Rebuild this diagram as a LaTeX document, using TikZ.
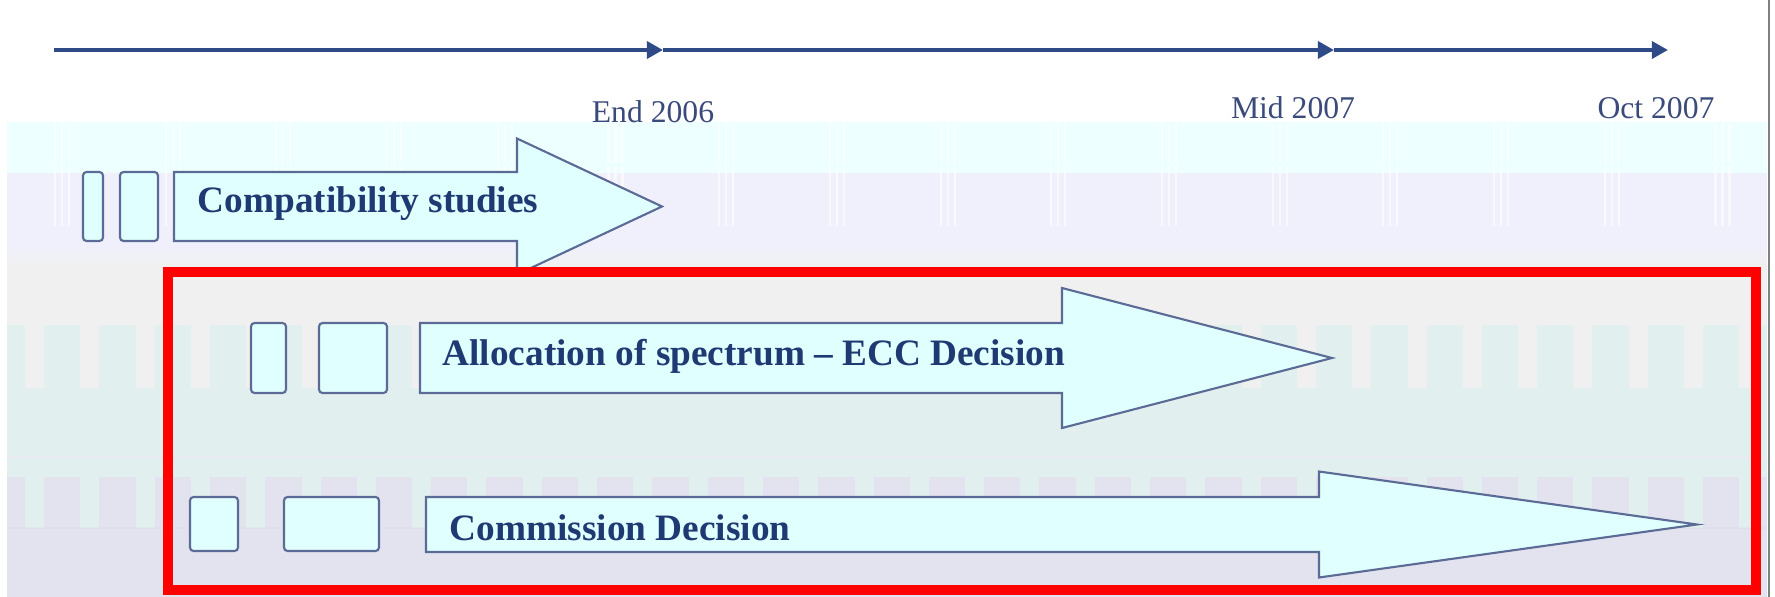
\documentclass[tikz,border=0pt]{standalone}
\usepackage{fontspec}
\setmainfont{Liberation Serif}
\usepackage{tikz}
\usetikzlibrary{arrows.meta,calc,positioning}
\definecolor{Navy}{HTML}{1F3A73}
\definecolor{LabelInk}{HTML}{3A4A7A}
\definecolor{AxisBlue}{HTML}{2E4A87}
\definecolor{ArrowFill}{HTML}{E0FFFF}
\definecolor{ArrowLine}{HTML}{5B6B96}
\definecolor{BandCyan}{HTML}{EEFFFF}
\definecolor{BandLavender}{HTML}{F0F0FC}
\definecolor{BandGrey}{HTML}{F0F0F0}
\definecolor{BandTeal}{HTML}{E2EFEF}
\definecolor{BandLilac}{HTML}{E3E3F0}
\definecolor{Highlight}{HTML}{FF0000}
\newcommand{\drawphasearrow}[6]{%
  \path[fill=ArrowFill,draw=ArrowLine,line width=0.6pt]
    (#1,{#4-#5}) -- (#2,{#4-#5}) -- (#2,{#4-#6}) -- (#3,#4)
    -- (#2,{#4+#6}) -- (#2,{#4+#5}) -- (#1,{#4+#5}) -- cycle;
}
\newcommand{\drawstepbox}[4]{%
  \path[fill=ArrowFill,draw=ArrowLine,line width=0.6pt,rounded corners=1pt]
    (#1,#2) rectangle (#3,#4);
}
\tikzset{
  milestone/.style={text=LabelInk,font=\fontsize{9}{11}\selectfont,
    inner sep=0pt,anchor=base},
  phasetext/.style={text=Navy,font=\fontsize{10.6}{12}\selectfont\bfseries,
    inner sep=0pt,anchor=base west},
  timeline/.style={AxisBlue,line width=1.15pt,
    -{Triangle[length=4.6pt,width=4.8pt]}}
}

\begin{document}
\begin{tikzpicture}[x=0.01cm,y=-0.01cm,line join=miter]
    \useasboundingbox (0,0) rectangle (1775,597);
    % background bands
    \path[fill=BandCyan] (7,122) rectangle (1767,173);
    \path[fill=BandLavender] (7,173) rectangle (1767,262);
    \path[fill=BandLavender!60!BandGrey] (7,250) rectangle (1767,262);
    \path[fill=BandGrey] (7,262) rectangle (1767,325);
    \path[fill=BandTeal] (7,325) rectangle (1767,477);
    \path[fill=BandLilac] (7,477) rectangle (1767,597);
    \foreach \k in {0,...,15}{
      \foreach \d in {2,9,16}{
        \draw[white,line width=0.6pt,opacity=0.55]
          ({53+110.7*\k+\d},124) -- ({53+110.7*\k+\d},163)
          ({53+110.7*\k+\d},167) -- ({53+110.7*\k+\d},226);
      }
    }
    \foreach \k in {0,...,31}{
      \path[fill=BandGrey] ({25+55.3*\k},325) rectangle ({44+55.3*\k},388);
      \path[fill=BandTeal] ({25+55.3*\k},477) rectangle ({44+55.3*\k},528);
    }
    \draw[BandLilac!80!white,line width=0.4pt] (7,457) -- (1767,457);
    \draw[BandLilac!95!black,line width=0.3pt,opacity=0.25] (7,528) -- (1767,528);
    \draw[gray,line width=0.6pt] (1769,0) -- (1769,597);

    % time axis
    \coordinate (tStart) at (54,50);
    \coordinate (tEnd) at (663,50);
    \coordinate (tMid) at (1334,50);
    \coordinate (tOct) at (1668,50);
    \draw[timeline] (tStart) -- (tEnd);
    \draw[timeline] (tEnd) -- (tMid);
    \draw[timeline] (tMid) -- (tOct);
    \node[milestone] (lblEnd) at (653,122) {End 2006};
    \node[milestone] (lblMid) at (1293,118) {Mid 2007};
    \node[milestone] (lblOct) at (1656,118) {Oct 2007};

    % compatibility studies
    \drawstepbox{83}{172}{103}{241}
    \drawstepbox{120}{172}{158}{241}
    \drawphasearrow{174}{517}{662}{206.5}{34.5}{68}
    \node[phasetext] (compat) at (197,212) {Compatibility studies};

    % ECC decision
    \drawstepbox{251}{323}{286}{393}
    \drawstepbox{319}{323}{387}{393}
    \drawphasearrow{420}{1062}{1332}{358}{35}{70}
    \node[phasetext] (alloc) at (442,365) {Allocation of spectrum -- ECC Decision};

    % commission decision
    \drawstepbox{190}{497}{238}{551}
    \drawstepbox{284}{497}{379}{551}
    \drawphasearrow{426}{1319}{1697}{524.5}{27.5}{53}
    \node[phasetext] (commission) at (449,540) {Commission Decision};

    \draw[Highlight,line width=2.6pt] (168,272) rectangle (1756,590);
  \end{tikzpicture}
\end{document}
